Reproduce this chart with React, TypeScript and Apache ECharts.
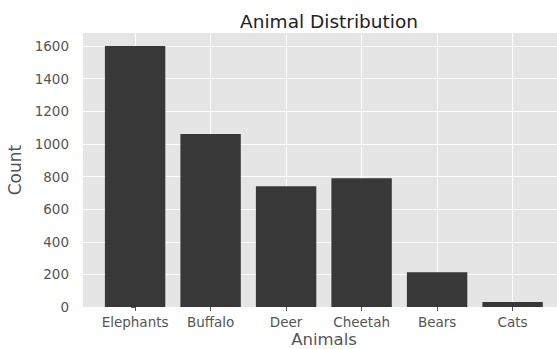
import React, { useEffect, useRef } from "react";
import * as echarts from "echarts";

const categories = ["Elephants", "Buffalo", "Deer", "Cheetah", "Bears", "Cats"];
const counts = [1600, 1060, 740, 790, 213, 30];
const yTicks = [0, 200, 400, 600, 800, 1000, 1200, 1400, 1600];
const xTicks = [0, 1, 2, 3, 4, 5];

export default function App() {
  const ref = useRef<HTMLDivElement>(null);
  useEffect(() => {
    if (!ref.current) return;
    const chart = echarts.init(ref.current, null, { renderer: "svg" });
    const font = "DejaVu Sans";
    chart.setOption({
      animation: false,
      backgroundColor: "#ffffff",
      title: {
        text: "Animal Distribution",
        left: 324,
        top: 7,
        textAlign: "center",
        textStyle: { fontFamily: font, fontSize: 18.5, fontWeight: "normal", color: "#222222" },
      },
      grid: {
        left: 83,
        top: 33,
        width: 481.7,
        height: 274,
        show: true,
        backgroundColor: "#E5E5E5",
        borderWidth: 0,
        outerBoundsMode: "none",
        containLabel: false,
      },
      graphic: [
        {
          type: "text",
          x: 324,
          y: 339,
          style: {
            text: "Animals",
            fontFamily: font,
            fontSize: 16.5,
            fill: "#555555",
            textAlign: "center",
            textVerticalAlign: "middle",
            verticalAlign: "middle",
          },
        },
      ],
      xAxis: {
        type: "value",
        min: -0.69,
        max: 5.69,
        axisLine: { show: false },
        axisTick: { show: true, customValues: xTicks, length: 4, lineStyle: { color: "#555555" } },
        axisLabel: {
          customValues: xTicks,
          margin: 8,
          fontFamily: font,
          fontSize: 13.5,
          color: "#555555",
          formatter: (v: number) => categories[Math.round(v)] ?? "",
        },
        splitLine: { show: true, lineStyle: { color: "#ffffff", width: 1 } },
      },
      yAxis: {
        type: "value",
        min: 0,
        max: 1680,
        name: "Count",
        nameLocation: "middle",
        nameGap: 53,
        nameTextStyle: { fontFamily: font, fontSize: 17, color: "#555555" },
        axisLine: { show: false },
        axisTick: { show: true, customValues: yTicks, length: 4, lineStyle: { color: "#555555" } },
        axisLabel: {
          customValues: yTicks,
          margin: 14,
          fontFamily: font,
          fontSize: 13.5,
          color: "#555555",
          formatter: (v: number) => String(v),
        },
        splitLine: { show: true, lineStyle: { color: "#ffffff", width: 1 } },
      },
      series: [
        {
          type: "bar",
          data: counts.map((v, i) => [i, v]),
          barWidth: 60.4,
          itemStyle: { color: "#383838" },
        },
      ],
    });
    return () => chart.dispose();
  }, []);
  return (
    <div style={{ position: "fixed", left: 0, top: 0, width: 557, height: 349, overflow: "hidden", background: "#fff" }}>
      <div ref={ref} style={{ width: 600, height: 349 }} />
    </div>
  );
}
